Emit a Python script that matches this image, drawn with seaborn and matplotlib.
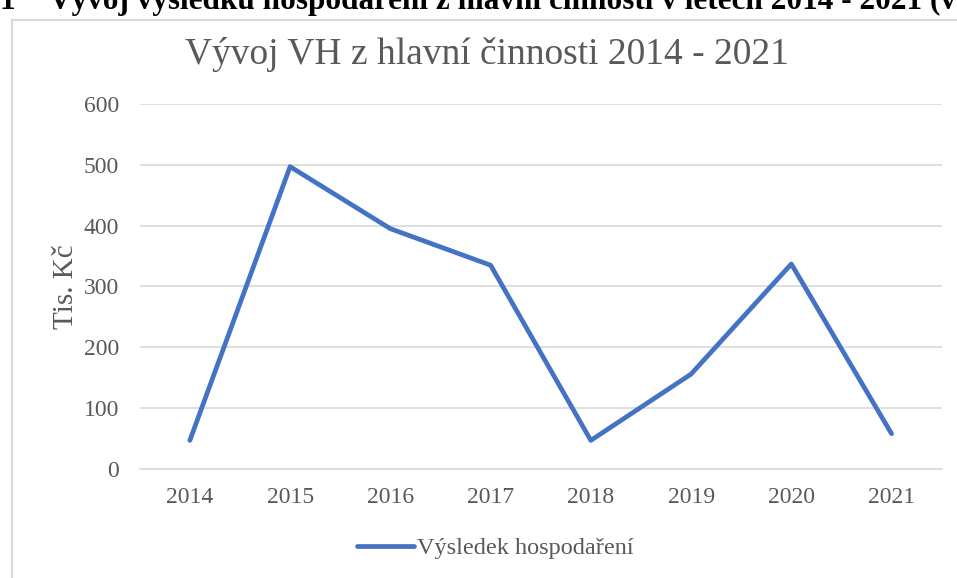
import matplotlib
matplotlib.use('Agg')
import matplotlib.pyplot as plt
import pandas as pd
import seaborn as sns
from matplotlib.patches import Rectangle

# Data
years = ['2014', '2015', '2016', '2017', '2018', '2019', '2020', '2021']
vh_values = [47, 497, 395, 335, 47, 156, 337, 58]
y_ticks = [0, 100, 200, 300, 400, 500, 600]

df = pd.DataFrame({'Rok': years, 'Výsledek hospodaření': vh_values})

sns.set_theme(style="white")
plt.rcParams['font.family'] = ['Liberation Serif', 'DejaVu Serif']

TEXT = '#595959'
LINE = '#4472C4'
GRID = '#D9D9D9'

fig = plt.figure(figsize=(9.57, 5.78), dpi=100)
ax = fig.add_axes([0.146, 0.1886, 0.838, 0.6315])

# Chart frame (document embedded chart border)
fig.patches.append(Rectangle((12 / 957, -0.01), 1.0, 1 - 20 / 578 + 0.01,
                             transform=fig.transFigure, fill=False,
                             edgecolor='#D9D9D9', linewidth=1.5))

# Cut-off document caption at the very top
fig.text(0.0, 1 - 9 / 578, '1', fontsize=22.5, fontweight='bold',
         color='black', ha='left', va='baseline')
fig.text(49 / 957, 1 - 9 / 578,
         'Vývoj výsledku hospodaření z hlavní činnosti v letech 2014 - 2021 (v tis. Kč)',
         fontsize=22.5, fontweight='bold', color='black', ha='left', va='baseline')

sns.lineplot(data=df, x='Rok', y='Výsledek hospodaření', ax=ax, color=LINE,
             linewidth=3.4, label='Výsledek hospodaření', sort=False)

ax.set_xlim(-0.5, len(years) - 0.5)
ax.set_ylim(0, 600)
ax.set_yticks(y_ticks)
ax.set_yticklabels([str(t) for t in y_ticks])
ax.yaxis.grid(True, color=GRID, linewidth=1.2)
ax.set_axisbelow(True)
for side in ['top', 'right', 'left']:
    ax.spines[side].set_visible(False)
ax.spines['bottom'].set_color(GRID)
ax.spines['bottom'].set_linewidth(1.2)
ax.tick_params(axis='both', length=0, labelsize=17, colors=TEXT)
ax.tick_params(axis='y', pad=15)
ax.tick_params(axis='x', pad=13)

ax.set_xlabel('')
ax.set_ylabel('Tis. Kč', fontsize=21, color=TEXT, labelpad=3)
ax.set_title('')
fig.text(487 / 957, 1 - 54 / 578, 'Vývoj VH z hlavní činnosti 2014 - 2021',
         fontsize=27, color=TEXT, ha='center', va='center')

ax.legend(loc='center left', bbox_to_anchor=(357 / 957, 1 - 548 / 578),
          bbox_transform=fig.transFigure, frameon=False, borderaxespad=0,
          borderpad=0, fontsize=17.5, labelcolor=TEXT, handlelength=2.35,
          handletextpad=0.12)

fig.savefig('out.png', dpi=100)
